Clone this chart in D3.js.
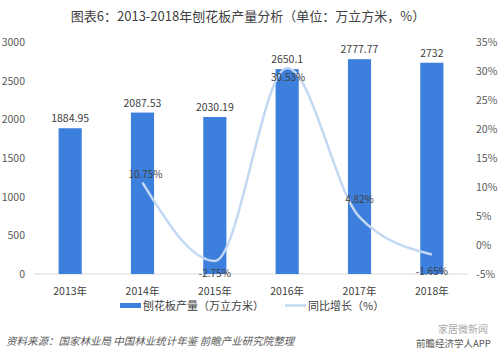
<!DOCTYPE html>
<html lang="zh">
<head>
<meta charset="UTF-8">
<title>刨花板产量</title>
<script src="https://d3js.org/d3.v7.min.js"></script>
<style>
  body { margin: 0; background: #fff; }
  text { font-family: "Noto Sans CJK SC", "Liberation Sans", sans-serif; }
</style>
</head>
<body>
<script>
// data
var years = ['2013年', '2014年', '2015年', '2016年', '2017年', '2018年'];
var output = [1884.95, 2087.53, 2030.19, 2650.1, 2777.77, 2732];
var growth = [null, 10.75, -2.75, 30.53, 4.82, -1.65];
var leftTicks = [0, 500, 1000, 1500, 2000, 2500, 3000];
var rightTicks = [-5, 0, 5, 10, 15, 20, 25, 30, 35];
// label offsets for the growth labels (px, from the point)
var growthLabelDx = [0, 3, 0, 1, 0, 0];
var growthLabelDy = [0, -5, 16, 13, -14, 20];

var width = 500, height = 353;
var margin = { top: 42, left: 34, right: 32, bottom: 79 };

var svg = d3.select('body').append('svg')
    .attr('width', width).attr('height', height);

var x = d3.scaleBand().domain(years)
    .range([margin.left, width - margin.right])
    .paddingInner(0.68).paddingOuter(0.34);
var yL = d3.scaleLinear().domain([0, 3000]).range([height - margin.bottom, margin.top]);
var yR = d3.scaleLinear().domain([-5, 35]).range([height - margin.bottom, margin.top]);

// title
svg.append('text')
    .attr('x', 248).attr('y', 21)
    .attr('text-anchor', 'middle')
    .attr('font-size', 13)
    .attr('fill', '#404040')
    .text('图表6：2013-2018年刨花板产量分析（单位：万立方米，%）');

// left axis labels
svg.append('g').selectAll('text').data(leftTicks).join('text')
    .attr('x', 25).attr('y', d => yL(d) + 4)
    .attr('text-anchor', 'end')
    .attr('font-size', 10.5).attr('fill', '#595959')
    .text(d => d);

// right axis labels
svg.append('g').selectAll('text').data(rightTicks).join('text')
    .attr('x', 476).attr('y', d => yR(d) + 4)
    .attr('font-size', 10.5).attr('fill', '#595959')
    .text(d => d + '%');

// baseline
svg.append('line')
    .attr('x1', margin.left).attr('x2', width - margin.right)
    .attr('y1', yL(0)).attr('y2', yL(0))
    .attr('stroke', '#d9d9d9').attr('stroke-width', 1);

// bars
svg.append('g').selectAll('rect').data(output).join('rect')
    .attr('x', (d, i) => x(years[i]))
    .attr('y', d => yL(d))
    .attr('width', x.bandwidth())
    .attr('height', d => yL(0) - yL(d))
    .attr('fill', '#3d7fdc');

// bar labels
svg.append('g').selectAll('text').data(output).join('text')
    .attr('x', (d, i) => x(years[i]) + x.bandwidth() / 2)
    .attr('y', d => yL(d) - 6)
    .attr('text-anchor', 'middle')
    .attr('font-size', 10.5).attr('fill', '#404040')
    .text(d => d);

// x labels
svg.append('g').selectAll('text').data(years).join('text')
    .attr('x', d => x(d) + x.bandwidth() / 2)
    .attr('y', 295)
    .attr('text-anchor', 'middle')
    .attr('font-size', 10.5).attr('fill', '#404040')
    .text(d => d);

// growth line
var pts = growth.map((g, i) => ({ i: i, g: g })).filter(d => d.g !== null);
var line = d3.line()
    .x(d => x(years[d.i]) + x.bandwidth() / 2)
    .y(d => yR(d.g))
    .curve(d3.curveMonotoneX);
svg.append('path').datum(pts)
    .attr('d', line)
    .attr('fill', 'none')
    .attr('stroke', '#c3d8f2')
    .attr('stroke-width', 2.5);

// growth labels
svg.append('g').selectAll('text').data(pts).join('text')
    .attr('x', d => x(years[d.i]) + x.bandwidth() / 2 + growthLabelDx[d.i])
    .attr('y', d => yR(d.g) + growthLabelDy[d.i])
    .attr('text-anchor', 'middle')
    .attr('font-size', 10).attr('fill', '#404040')
    .text(d => d.g + '%');

// legend
var lg = svg.append('g');
lg.append('rect').attr('x', 120).attr('y', 303).attr('width', 21).attr('height', 5).attr('fill', '#3d7fdc');
lg.append('text').attr('x', 143).attr('y', 310).attr('font-size', 11).attr('fill', '#404040')
    .text('刨花板产量（万立方米）');
lg.append('line').attr('x1', 285).attr('x2', 306).attr('y1', 305.5).attr('y2', 305.5)
    .attr('stroke', '#c3d8f2').attr('stroke-width', 2.5);
lg.append('text').attr('x', 308).attr('y', 310).attr('font-size', 11).attr('fill', '#404040')
    .text('同比增长（%）');

// source
svg.append('text')
    .attr('x', 6).attr('y', 345)
    .attr('font-size', 10.5).attr('font-style', 'italic')
    .attr('fill', '#595959')
    .text('资料来源：国家林业局 中国林业统计年鉴 前瞻产业研究院整理');
svg.append('text')
    .attr('x', 438).attr('y', 333)
    .attr('font-size', 10).attr('fill', '#aaaaaa')
    .text('家居微新闻');
svg.append('text')
    .attr('x', 416).attr('y', 347)
    .attr('font-size', 9.5).attr('fill', '#555555')
    .text('前瞻经济学人APP');
</script>
</body>
</html>
